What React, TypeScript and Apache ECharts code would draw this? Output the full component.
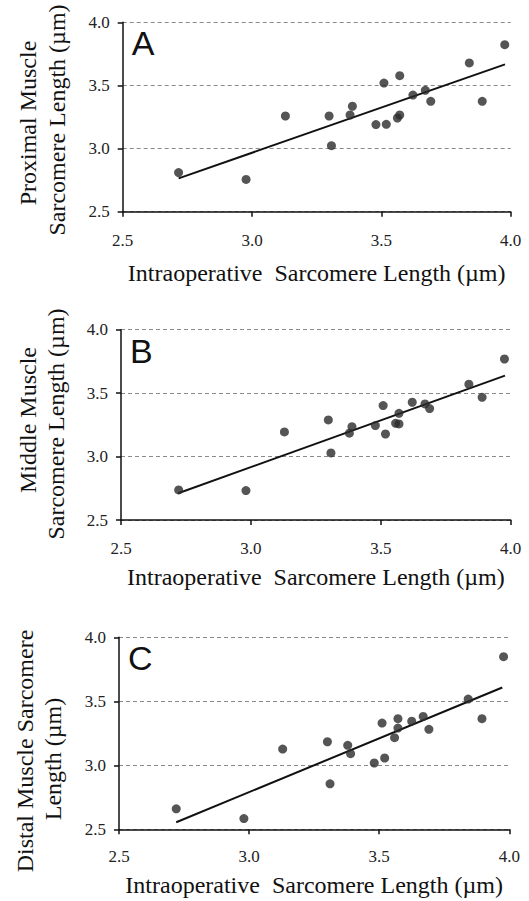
import React, { useEffect, useRef } from "react";
import * as echarts from "echarts";

const xTicks = [2.5, 3.0, 3.5, 4.0];
const panelLetters = ["A", "B", "C"];
const xTitle = "Intraoperative  Sarcomere Length (\u00b5m)";
const yTitleLines = [
  ["Proximal Muscle", "Sarcomere Length (\u00b5m)"],
  ["Middle Muscle", "Sarcomere Length (\u00b5m)"],
  ["Distal Muscle Sarcomere", "Length (\u00b5m)"],
];

const xA = [2.716, 2.977, 3.129, 3.298, 3.307, 3.379, 3.388, 3.479, 3.51, 3.519, 3.562, 3.571, 3.571, 3.622, 3.67, 3.691, 3.84, 3.89, 3.977];
const yA = [2.81, 2.756, 3.258, 3.258, 3.023, 3.266, 3.335, 3.19, 3.519, 3.192, 3.242, 3.266, 3.577, 3.424, 3.461, 3.374, 3.678, 3.374, 3.823];

const xB = [2.722, 2.981, 3.129, 3.298, 3.308, 3.379, 3.389, 3.479, 3.509, 3.518, 3.557, 3.57, 3.57, 3.621, 3.67, 3.688, 3.839, 3.89, 3.976];
const yB = [2.737, 2.732, 3.194, 3.289, 3.029, 3.184, 3.236, 3.244, 3.402, 3.178, 3.262, 3.257, 3.341, 3.428, 3.415, 3.378, 3.57, 3.467, 3.769];

const xC = [2.72, 2.98, 3.129, 3.301, 3.311, 3.379, 3.39, 3.481, 3.511, 3.521, 3.559, 3.572, 3.572, 3.625, 3.669, 3.691, 3.842, 3.895, 3.978];
const yC = [2.66, 2.584, 3.127, 3.184, 2.855, 3.156, 3.091, 3.018, 3.33, 3.057, 3.216, 3.364, 3.291, 3.345, 3.382, 3.281, 3.517, 3.364, 3.849];

const trendA = [[2.716, 2.764], [3.978, 3.667]];
const trendB = [[2.72, 2.711], [3.978, 3.638]];
const trendC = [[2.72, 2.555], [3.973, 3.608]];

const panels = [
  { x: xA, y: yA, trend: trendA },
  { x: xB, y: yB, trend: trendB },
  { x: xC, y: yC, trend: trendC },
];

const gridBoxes = [
  { left: 122.7, top: 22.3, width: 388, height: 189.4, labelMargin: 20, nameGap: 49 },
  { left: 121, top: 329.7, width: 389.7, height: 190.3, labelMargin: 20, nameGap: 45 },
  { left: 119, top: 637.3, width: 390.3, height: 192, labelMargin: 19, nameGap: 44 },
];

const yTitlePos = [
  [{ x: 28, y: 123 }, { x: 57, y: 120 }],
  [{ x: 28, y: 420 }, { x: 56, y: 424 }],
  [{ x: 25, y: 751 }, { x: 53, y: 759 }],
];

const SERIF = "'Liberation Serif', 'Times New Roman', serif";

export default function App() {
  const ref = useRef<HTMLDivElement>(null);
  useEffect(() => {
    if (!ref.current) return;
    const chart = echarts.init(ref.current, undefined, { renderer: "svg" });
    const grid = gridBoxes.map((g) => ({ left: g.left, top: g.top, width: g.width, height: g.height }));
    const xAxis = gridBoxes.map((g, i) => ({
      type: "value",
      gridIndex: i,
      min: 2.5,
      max: 4.0,
      interval: 0.5,
      name: xTitle,
      nameLocation: "middle",
      nameGap: g.nameGap,
      nameTextStyle: { fontFamily: SERIF, fontSize: 24, color: "#111" },
      axisLine: { show: true, onZero: false, lineStyle: { color: "#111", width: 1.5 } },
      axisTick: { show: true, inside: false, length: 5, lineStyle: { color: "#111", width: 1.5 } },
      axisLabel: {
        margin: g.labelMargin,
        fontFamily: SERIF,
        fontSize: 17,
        color: "#222",
        formatter: (v: number) => (xTicks.includes(v) ? v.toFixed(1) : ""),
      },
      splitLine: { show: false },
    }));
    const yAxis = gridBoxes.map((g, i) => ({
      type: "value",
      gridIndex: i,
      min: 2.5,
      max: 4.0,
      interval: 0.5,
      axisLine: { show: true, onZero: false, lineStyle: { color: "#111", width: 1.5 } },
      axisTick: { show: true, inside: false, length: 5, lineStyle: { color: "#111", width: 1.5 } },
      axisLabel: {
        margin: 13,
        fontFamily: SERIF,
        fontSize: 17,
        color: "#222",
        formatter: (v: number) => v.toFixed(1),
      },
      splitLine: { show: true, lineStyle: { color: "#8a8a8a", type: [4, 3], width: 1 } },
    }));
    const series: any[] = [];
    panels.forEach((p, i) => {
      series.push({
        type: "line",
        xAxisIndex: i,
        yAxisIndex: i,
        data: p.trend,
        showSymbol: false,
        symbol: "none",
        lineStyle: { color: "#111", width: 2 },
        z: 2,
      });
      series.push({
        type: "scatter",
        xAxisIndex: i,
        yAxisIndex: i,
        data: p.x.map((xv, k) => [xv, p.y[k]]),
        symbol: "circle",
        symbolSize: 9,
        itemStyle: { color: "#2b2b2b" },
        z: 3,
      });
    });
    const graphic: any[] = [];
    gridBoxes.forEach((g, i) => {
      graphic.push({
        type: "text",
        left: g.left + 9,
        top: g.top + 4,
        style: {
          text: panelLetters[i],
          fontFamily: "'Liberation Sans', Arial, sans-serif",
          fontSize: 34,
          fill: "#111",
        },
      });
      yTitleLines[i].forEach((line, j) => {
        graphic.push({
          type: "text",
          x: yTitlePos[i][j].x,
          y: yTitlePos[i][j].y,
          rotation: Math.PI / 2,
          style: {
            text: line,
            fontFamily: SERIF,
            fontSize: 24,
            fill: "#111",
            align: "center",
            verticalAlign: "middle",
          },
        });
      });
    });
    chart.setOption({
      animation: false,
      backgroundColor: "#ffffff",
      grid,
      xAxis,
      yAxis,
      series,
      graphic,
    });
    return () => chart.dispose();
  }, []);
  return (
    <div
      ref={ref}
      style={{ position: "fixed", left: 0, top: 0, width: 529, height: 901, background: "#fff" }}
    />
  );
}
